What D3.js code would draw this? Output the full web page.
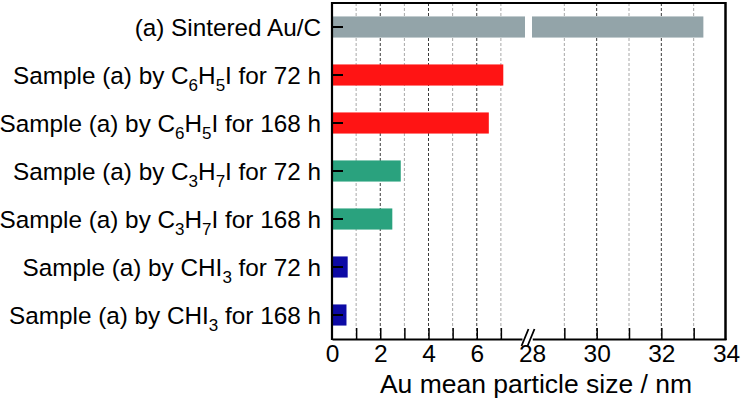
<!DOCTYPE html>
<html>
<head>
<meta charset="utf-8">
<script src="https://cdn.jsdelivr.net/npm/d3@7"></script>
<style>
  html, body { margin: 0; padding: 0; background: #fff; }
  svg { display: block; font-family: "Liberation Sans", Arial, sans-serif; }
</style>
</head>
<body>
<svg id="chart" width="742" height="402"></svg>
<script>
// ---- data ----
// label segments: [text, isSubscript]
const categories = [
  [["(a) Sintered Au/C", 0]],
  [["Sample (a) by C", 0], ["6", 1], ["H", 0], ["5", 1], ["I for 72 h", 0]],
  [["Sample (a) by C", 0], ["6", 1], ["H", 0], ["5", 1], ["I for 168 h", 0]],
  [["Sample (a) by C", 0], ["3", 1], ["H", 0], ["7", 1], ["I for 72 h", 0]],
  [["Sample (a) by C", 0], ["3", 1], ["H", 0], ["7", 1], ["I for 168 h", 0]],
  [["Sample (a) by CHI", 0], ["3", 1], [" for 72 h", 0]],
  [["Sample (a) by CHI", 0], ["3", 1], [" for 168 h", 0]]
];
const values = [33.3, 7.1, 6.5, 2.85, 2.5, 0.65, 0.6];
const barColors = ["#93a4a9", "#ff1414", "#ff1414", "#2aa27e", "#2aa27e", "#0d0aa5", "#0d0aa5"];
const lowTicks = [0, 1, 2, 3, 4, 5, 6, 7];
const highTicks = [28, 29, 30, 31, 32, 33, 34];
const lowDomain = [0, 8];
const highDomain = [28, 34];
const xTitle = "Au mean particle size / nm";

// ---- layout ----
const svg = d3.select("#chart");
const L = 332, B1 = 525, B2 = 532, R = 726, T = 3, Bot = 339;

const x1 = d3.scaleLinear().domain(lowDomain).range([L, B1]);
const x2 = d3.scaleLinear().domain(highDomain).range([B2, R]);
const idx = categories.map((d, i) => i);
const y = d3.scaleBand().domain(idx).range([T, Bot]).paddingInner(0.56).paddingOuter(0.28);

// gridlines
const gridVals = lowTicks.filter(d => d > 0).map(d => ({ v: d, s: x1 }))
  .concat(highTicks.filter(d => d > 28 && d < 34).map(d => ({ v: d, s: x2 })));
svg.append("g").selectAll("line").data(gridVals).join("line")
  .attr("x1", d => d.s(d.v)).attr("x2", d => d.s(d.v))
  .attr("y1", T).attr("y2", Bot)
  .attr("stroke", d => d.v % 2 === 0 ? "#3a3a3a" : "#a8a8a8")
  .attr("stroke-width", 1)
  .attr("stroke-dasharray", "3,2");

// bars
const bars = svg.append("g");
values.forEach((v, i) => {
  if (v <= lowDomain[1]) {
    bars.append("rect")
      .attr("x", x1(0)).attr("y", y(i))
      .attr("width", x1(v) - x1(0)).attr("height", y.bandwidth())
      .attr("fill", barColors[i]);
  } else {
    bars.append("rect")
      .attr("x", x1(0)).attr("y", y(i))
      .attr("width", x1(lowDomain[1]) - x1(0)).attr("height", y.bandwidth())
      .attr("fill", barColors[i]);
    bars.append("rect")
      .attr("x", x2(highDomain[0])).attr("y", y(i))
      .attr("width", x2(v) - x2(highDomain[0])).attr("height", y.bandwidth())
      .attr("fill", barColors[i]);
  }
});

// bottom axes
function styleAxis(g) {
  g.select(".domain").attr("stroke", "#000").attr("stroke-width", 2);
  g.selectAll(".tick line").attr("stroke", "#000").attr("stroke-width", 1.5);
  g.selectAll(".tick text").attr("font-size", 24.5).attr("fill", "#000")
    .attr("font-family", "Liberation Sans, Arial, sans-serif");
}
const ax1 = svg.append("g").attr("transform", `translate(0,${Bot})`)
  .call(d3.axisBottom(x1).tickValues(lowTicks).tickSizeInner(-11).tickSizeOuter(0).tickPadding(6)
    .tickFormat(d => d % 2 === 0 ? d : ""));
styleAxis(ax1);
ax1.selectAll(".tick").filter(d => d === 0).select("line").remove();

const ax2 = svg.append("g").attr("transform", `translate(0,${Bot})`)
  .call(d3.axisBottom(x2).tickValues(highTicks).tickSizeInner(-11).tickSizeOuter(0).tickPadding(6)
    .tickFormat(d => d % 2 === 0 ? d : ""));
styleAxis(ax2);
ax2.selectAll(".tick").filter(d => d === 28 || d === 34).select("line").remove();

// frame: top and right
svg.append("line").attr("x1", L).attr("x2", R).attr("y1", T).attr("y2", T)
  .attr("stroke", "#000").attr("stroke-width", 2);
svg.append("line").attr("x1", R - 0.5).attr("x2", R - 0.5).attr("y1", T - 1).attr("y2", Bot + 1)
  .attr("stroke", "#000").attr("stroke-width", 2.5);

// left axis
const ay = svg.append("g").attr("transform", `translate(${L},0)`)
  .call(d3.axisLeft(y).tickSizeInner(-11).tickSizeOuter(0).tickFormat(""));
ay.select(".domain").attr("stroke", "#000").attr("stroke-width", 2.2);
ay.selectAll(".tick line").attr("stroke", "#000").attr("stroke-width", 2);
ay.select(".domain").attr("d", `M0,${T - 1}V${Bot + 1}`);

// category labels with subscripts
const labG = svg.append("g");
categories.forEach((segs, i) => {
  const cy = y(i) + y.bandwidth() / 2;
  const t = labG.append("text")
    .attr("x", L - 11).attr("y", cy + 8.5)
    .attr("text-anchor", "end")
    .attr("font-size", 24.3).attr("fill", "#000");
  let sub = false;
  segs.forEach(([s, isSub]) => {
    const ts = t.append("tspan").text(s);
    if (isSub && !sub) { ts.attr("dy", 7).attr("font-size", 17); sub = true; }
    else if (isSub && sub) { ts.attr("font-size", 17); }
    else if (!isSub && sub) { ts.attr("dy", -7); sub = false; }
  });
});

// axis break marks
const bx = (x1(lowDomain[1]) + x2(highDomain[0])) / 2;
svg.append("rect").attr("x", bx - 6).attr("y", Bot - 2).attr("width", 10).attr("height", 4).attr("fill", "#fff");
[-3, 3].forEach(o => {
  svg.append("line")
    .attr("x1", bx + o - 4).attr("y1", Bot + 7)
    .attr("x2", bx + o + 3).attr("y2", Bot - 10)
    .attr("stroke", "#000").attr("stroke-width", 1.8);
});

// x title
svg.append("text").attr("x", 536).attr("y", 393)
  .attr("text-anchor", "middle").attr("font-size", 26.5).attr("fill", "#000")
  .text(xTitle);
</script>
</body>
</html>
